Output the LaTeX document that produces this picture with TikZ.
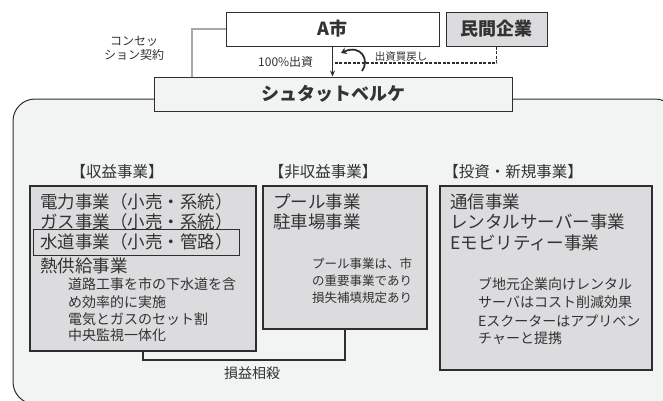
\documentclass[tikz,border=0pt]{standalone}
\usepackage{fontspec}
\newfontfamily\jp{Noto Sans CJK JP}
\usetikzlibrary{arrows.meta}
\definecolor{txt}{HTML}{333333}
\definecolor{edge}{HTML}{2E2E2E}
\definecolor{outerfill}{HTML}{F2F3F3}
\definecolor{boxfill}{HTML}{DCDCDE}
\definecolor{lgray}{HTML}{A8A8A8}
\tikzset{
  jpf/.style={font=\jp\fontsize{#1}{#1}\selectfont},
  topbox/.style={draw=edge, line width=1pt, inner sep=0pt, text=txt, font=\jp\bfseries\fontsize{18}{18}\selectfont},
  inbox/.style={draw=edge, line width=1.2pt, fill=boxfill, inner sep=0pt},
  big/.style={jpf=17.5, text=txt, anchor=west, inner sep=0pt},
  smallr/.style={jpf=14, text=txt, anchor=west, inner sep=0pt},
  smalln/.style={jpf=12.5, text=txt, anchor=west, inner sep=0pt},
  head/.style={jpf=15.5, text=txt, inner sep=0pt},
  lab/.style={text=txt, inner sep=0pt},
}
\begin{document}
\begin{tikzpicture}[x=1pt,y=-1pt]
\useasboundingbox (0,0) rectangle (663,400);
\clip (0,0) rectangle (663,400);
\fill[white] (0,0) rectangle (663,400);
% outer rounded area
\draw[draw=edge, line width=1pt, fill=outerfill, rounded corners=22pt] (13,99) rectangle (677,404);
% top boxes
\node[topbox, fill=white, minimum width=213pt, minimum height=34pt] (A) at (332.5,29) {A市};
\node[topbox, fill=boxfill, minimum width=101pt, minimum height=34pt] (M) at (496.5,29) {民間企業};
\node[topbox, fill=outerfill, minimum width=358pt, minimum height=34pt] (S) at (333,94) {シュタットベルケ};
% concession contract line
\coordinate (cs) at (192,77);
\draw[lgray, line width=1.5pt] (A.west) -| (cs);
\node[lab, jpf=12, align=center] (con1) at (134,41) {コンセッ};
\node[lab, jpf=12, align=center] (con2) at (134,55) {ション契約};
% 100% investment arrow
\draw[edge, line width=1.5pt, -{Stealth[length=6pt,width=5pt]}] (A.south) -- (A.south |- S.north);
\node[lab, jpf=12, anchor=west] (inv) at (258,62) {100\%出資};
% buyback dashed line
\coordinate (dj) at (333,63);
\draw[edge, line width=1.1pt, dash pattern=on 3pt off 1.5pt] (M.south) |- (dj);
\node[lab, jpf=10.5] (buy) at (401,57) {出資買戻し};
% curved arrow
\coordinate (ca1) at (362,71);
\coordinate (ca2) at (341,53);
\draw[edge, line width=1.8pt, -{Stealth[length=5.5pt,width=7pt]}] (ca1) .. controls (370,60) and (361,44) .. (ca2);
% headers
\node[head] (h1) at (117,172) {【収益事業】};
\node[head] (h2) at (323,172) {【非収益事業】};
\node[head] (h3) at (513,172) {【投資・新規事業】};
% business boxes
\node[inbox, minimum width=226pt, minimum height=165pt] (R) at (143,268.5) {};
\node[inbox, minimum width=164pt, minimum height=143pt] (N) at (345,257.5) {};
\node[inbox, minimum width=212pt, minimum height=184pt] (I) at (546,278) {};
\node[draw=edge, line width=1pt, inner sep=0pt, minimum width=206pt, minimum height=26pt] (W) at (136,242) {};
% revenue box text
\node[big] (r1) at (40,202) {電力事業（小売・系統）};
\node[big] (r2) at (40,221.5) {ガス事業（小売・系統）};
\node[big] (r3) at (40,242) {水道事業（小売・管路）};
\node[big] (r4) at (40,266) {熱供給事業};
\node[smallr] (r5) at (68,284.5) {道路工事を市の下水道を含};
\node[smallr] (r6) at (68,302.5) {め効率的に実施};
\node[smallr] (r7) at (68,319.5) {電気とガスのセット割};
\node[smallr] (r8) at (68,335) {中央監視一体化};
% non-revenue box text
\node[big] (n1) at (273,202) {プール事業};
\node[big] (n2) at (273,221.5) {駐車場事業};
\node[smalln] (n3) at (312,264) {プール事業は、市};
\node[smalln] (n4) at (312,281) {の重要事業であり};
\node[smalln] (n5) at (312,297.5) {損失補填規定あり};
% investment box text
\node[big] (i1) at (450,201.5) {通信事業};
\node[big] (i2) at (450,222) {レンタルサーバー事業};
\node[big] (i3) at (450,242.5) {Eモビリティー事業};
\node[smallr] (i4) at (478,284.5) {ブ地元企業向けレンタル};
\node[smallr] (i5) at (478,302.5) {サーバはコスト削減効果};
\node[smallr] (i6) at (478,321) {Eスクーターはアプリベン};
\node[smallr] (i7) at (478,338.5) {チャーと提携};
% offset connector
\draw[edge, line width=1.8pt] (R.south) -- ++(0,8) -| (N.south);
\node[lab, jpf=14] (off) at (252,373) {損益相殺};
\end{tikzpicture}
\end{document}
